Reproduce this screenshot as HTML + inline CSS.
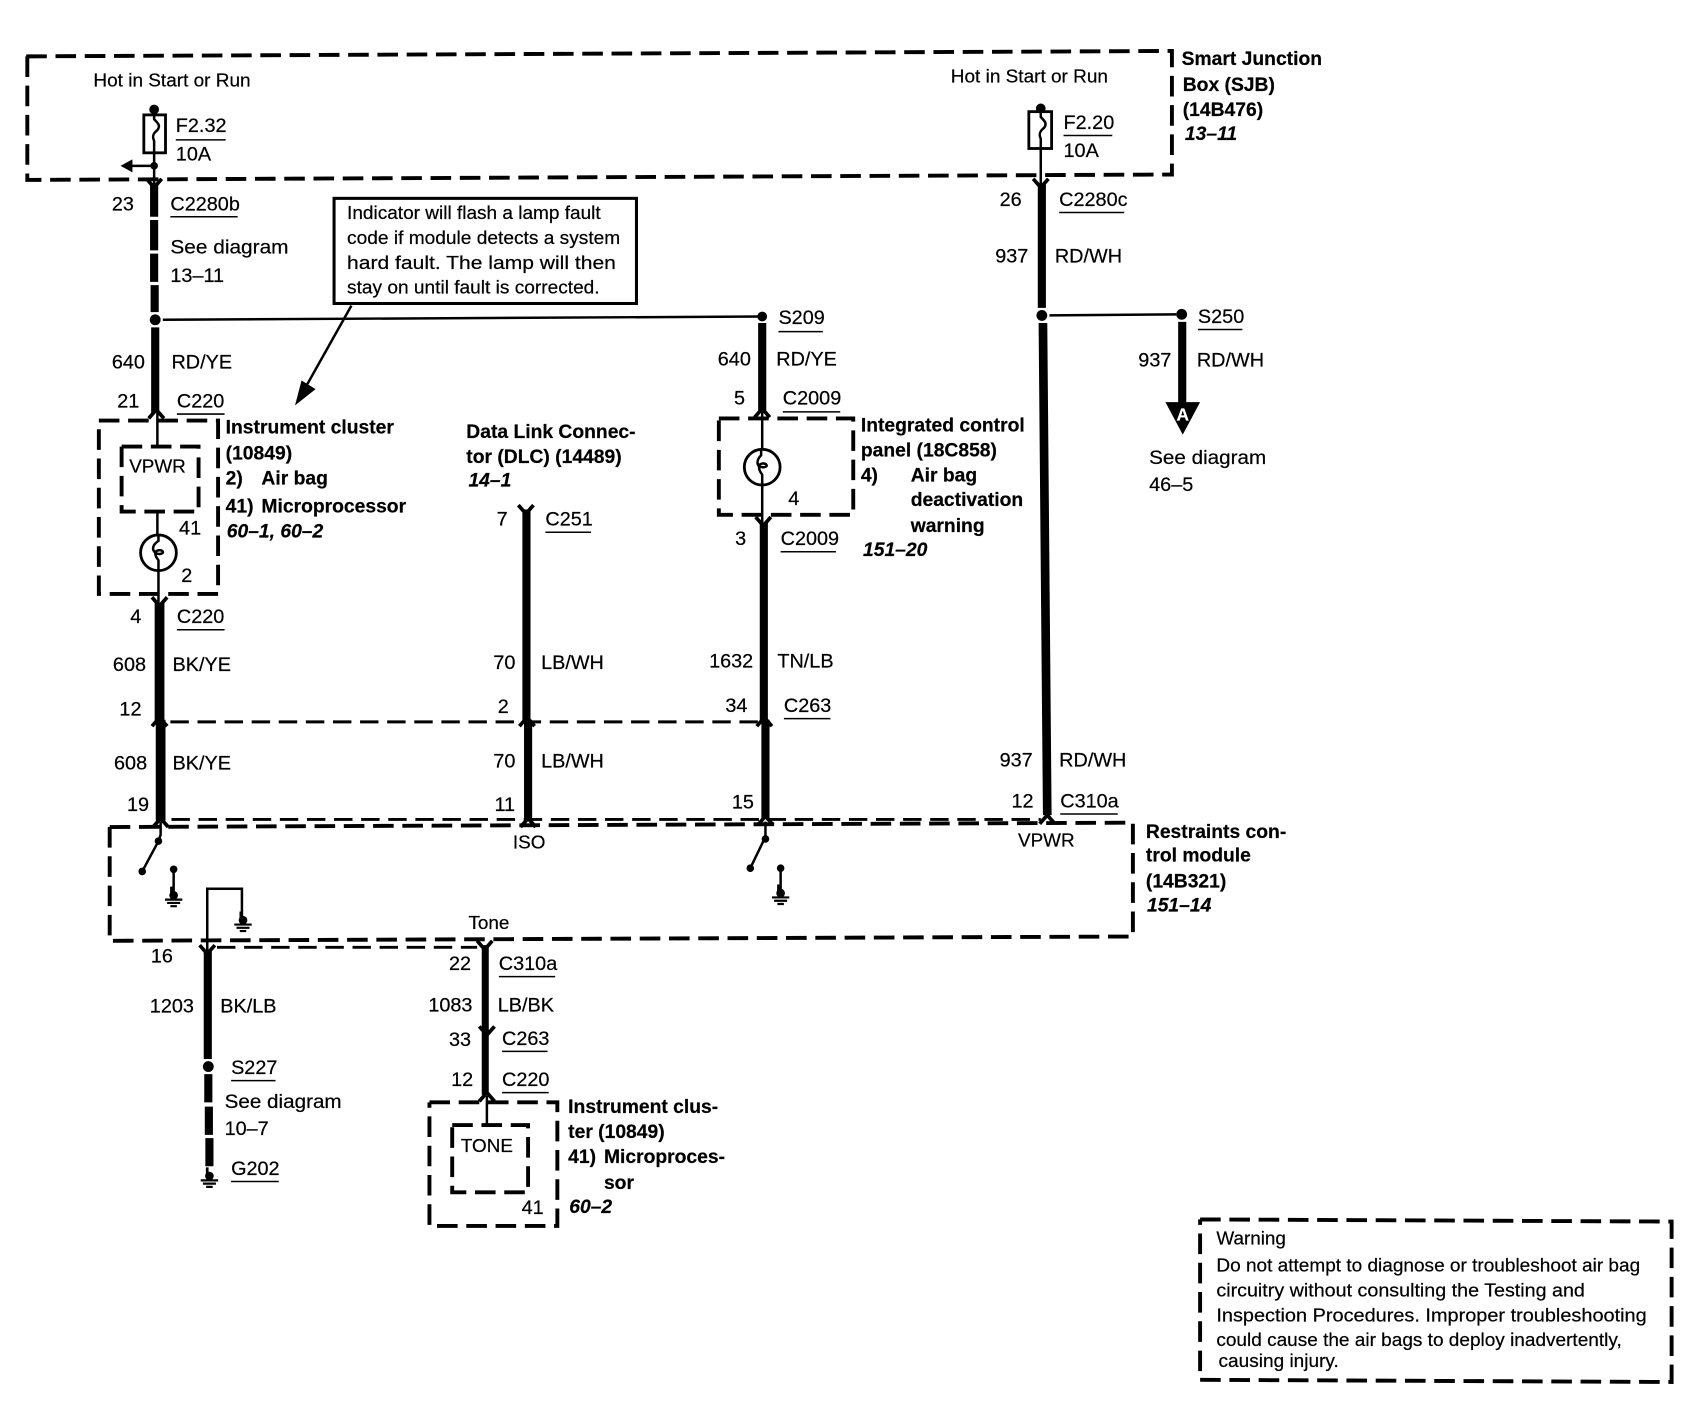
<!DOCTYPE html>
<html><head><meta charset="utf-8"><style>
html,body{margin:0;padding:0;background:#fff}
svg{display:block}
text{font-family:"Liberation Sans",sans-serif;font-size:18.3px;fill:#000;stroke:#000;stroke-width:.2}
.b{font-weight:bold;font-size:17.8px}
.i{font-weight:bold;font-style:italic;font-size:17.8px}
.s{font-size:17.4px}
.t{fill:none;stroke:#000;stroke-width:2.3}
.w{fill:none;stroke:#000;stroke-width:7.5}
.u{stroke:#000;stroke-width:1.4}
.d{fill:none;stroke:#000;stroke-width:3.6;stroke-dasharray:19 8}
.h{fill:none;stroke:#000;stroke-width:2.7;stroke-dasharray:17 8}
.c{fill:none;stroke:#000;stroke-width:3.4}
</style></head><body>
<svg xmlns="http://www.w3.org/2000/svg" width="1700" height="1408" viewBox="0 0 1568 1299">
<defs>
<path id="dn" class="c" d="M-7,-5 L0,3 L7,-5"/>
<path id="up" class="c" d="M-7,5 L0,-3 L7,5"/>
<g id="gnd"><circle cx="0" cy="0" r="4"/><path d="M-2,-8V0" stroke="#000" stroke-width="2.5"/><path d="M-8,4H8M-6,7H6M-3,10H3" stroke="#000" stroke-width="2"/></g>
</defs>
<rect width="1568" height="1299" fill="#fff"/>

<!-- SJB -->
<path class="d" d="M24,52 L1081,47 V161 L25,166 V52"/>
<text class="s" x="86" y="80" textLength="145" lengthAdjust="spacingAndGlyphs">Hot in Start or Run</text>
<text class="s" x="877" y="76" textLength="145" lengthAdjust="spacingAndGlyphs">Hot in Start or Run</text>
<circle cx="142" cy="101" r="4.5"/>
<rect x="132.5" y="106" width="20" height="35" fill="#fff" stroke="#000" stroke-width="2.6"/>
<path class="t" d="M142,104 v6 c4,4 6,6 3,10 c-4,3 -5,6 -3,10 V175"/>
<circle cx="142" cy="153" r="3.5"/>
<path class="t" d="M142,153 H119"/><path d="M111,153 L122,147 V159Z"/>
<text x="162" y="122">F2.32</text><line class="u" x1="162" y1="129" x2="208" y2="129"/>
<text x="162" y="148">10A</text>
<circle cx="960" cy="100" r="4.5"/>
<rect x="949" y="103" width="21" height="34" fill="#fff" stroke="#000" stroke-width="2.6"/>
<path class="t" d="M960,102 v6 c4,4 6,6 3,10 c-4,3 -5,6 -3,10 V172"/>
<text x="981" y="119">F2.20</text><line class="u" x1="981" y1="125" x2="1026" y2="125"/>
<text x="981" y="145">10A</text>
<text class="b" x="1090" y="60">Smart Junction</text>
<text class="b" x="1091" y="84">Box (SJB)</text>
<text class="b" x="1091" y="107">(14B476)</text>
<text class="i" x="1093" y="129">13–11</text>

<!-- Left top wire -->
<use href="#dn" x="142" y="170"/>
<path class="w" d="M142,170V200M142,203V231M142,234V260M142.5,263V288"/>
<text x="103" y="194">23</text>
<text x="157" y="194">C2280b</text><line class="u" x1="157" y1="200" x2="219" y2="200"/>
<text x="157" y="234" textLength="109" lengthAdjust="spacingAndGlyphs">See diagram</text>
<text x="157" y="260">13–11</text>
<circle cx="143" cy="295" r="5"/>
<path class="t" d="M150,295 L703,292"/>
<path class="w" d="M143,302V381"/>
<text x="103" y="340">640</text><text x="158" y="340">RD/YE</text>
<text x="108" y="376">21</text>
<text x="163" y="376">C220</text><line class="u" x1="163" y1="382" x2="207" y2="382"/>
<use href="#up" x="144" y="381"/>

<!-- Callout -->
<rect x="308" y="183" width="279" height="97" fill="#fff" stroke="#000" stroke-width="2.8"/>
<text class="s" x="320" y="202" textLength="234" lengthAdjust="spacingAndGlyphs">Indicator will flash a lamp fault</text>
<text class="s" x="320" y="225" textLength="252" lengthAdjust="spacingAndGlyphs">code if module detects a system</text>
<text class="s" x="320" y="248" textLength="248" lengthAdjust="spacingAndGlyphs">hard fault. The lamp will then</text>
<text class="s" x="320" y="271" textLength="233" lengthAdjust="spacingAndGlyphs">stay on until fault is corrected.</text>
<path class="t" d="M324,282 L283,355"/><path d="M272,374 L278,351 L291,359Z"/>

<!-- Instrument cluster -->
<path class="d" d="M91,388 H201 V548 H91 V388"/>
<path class="d" d="M112,412 H183 V472 H112 V412" stroke-dasharray="15 6"/>
<text class="s" x="119" y="436">VPWR</text>
<path class="t" d="M145,380V412M145,472V493"/>
<circle cx="146" cy="510" r="16.5" fill="#fff" stroke="#000" stroke-width="2.6"/>
<path class="t" d="M146,493 v6 c-6,4 -6,8 -3,11 c3,2 8,1 7,-1 c-1,-2 -6,-2 -7,1 c0,4 2,5 3,7 V556"/>
<text x="165" y="493">41</text><text x="167" y="537">2</text>
<text class="b" x="208" y="400">Instrument cluster</text>
<text class="b" x="208" y="424">(10849)</text>
<text class="b" x="208" y="447">2)</text><text class="b" x="241" y="447">Air bag</text>
<text class="b" x="208" y="473">41)</text><text class="b" x="241" y="473">Microprocessor</text>
<text class="i" x="209" y="496">60–1, 60–2</text>

<use href="#dn" x="147" y="556"/>
<path class="w" d="M147,556V665" style="stroke-width:9"/>
<text x="120" y="575">4</text>
<text x="163" y="575">C220</text><line class="u" x1="163" y1="581" x2="207" y2="581"/>
<text x="104" y="619">608</text><text x="159" y="619">BK/YE</text>
<text x="110" y="660">12</text>
<use href="#up" x="147" y="665"/>
<path class="h" d="M157,666 H702"/>
<path class="w" d="M148,664V757" style="stroke-width:9"/>
<text x="105" y="710">608</text><text x="159" y="710">BK/YE</text>
<text x="117" y="748">19</text>
<use href="#up" x="148" y="758"/>
<path class="h" d="M158,756 H960"/>

<!-- DLC -->
<text class="b" x="430" y="404">Data Link Connec-</text>
<text class="b" x="430" y="427">tor (DLC) (14489)</text>
<text class="i" x="432" y="449">14–1</text>
<use href="#dn" x="485" y="471"/>
<path class="w" d="M485.5,470V665"/>
<text x="458" y="485">7</text>
<text x="503" y="485">C251</text><line class="u" x1="503" y1="491" x2="545" y2="491"/>
<text x="455" y="617">70</text><text x="499" y="617">LB/WH</text>
<text x="459" y="658">2</text>
<use href="#up" x="486" y="665"/>
<path class="w" d="M487,664V757"/>
<text x="455" y="708">70</text><text x="499" y="708">LB/WH</text>
<text x="456" y="748">11</text>
<use href="#up" x="487" y="758"/>

<!-- ICP -->
<circle cx="703" cy="292" r="4.5"/>
<text x="718" y="299">S209</text><line class="u" x1="718" y1="306" x2="759" y2="306"/>
<path class="w" d="M703,298V380"/>
<text x="662" y="337">640</text><text x="716" y="337">RD/YE</text>
<text x="677" y="373">5</text>
<text x="722" y="373">C2009</text><line class="u" x1="722" y1="380" x2="775" y2="380"/>
<use href="#up" x="703" y="380"/>
<path class="d" d="M663,386 H787 V475 H663 V386"/>
<path class="t" d="M703,380V414"/>
<circle cx="703" cy="431" r="16.5" fill="#fff" stroke="#000" stroke-width="2.6"/>
<path class="t" d="M702,414 v6 c-4,4 -4,8 -2,10 c3,2 8,1 7,-1 c-1,-2 -6,-2 -7,1 c0,5 2,6 3,8 V482"/>
<text x="727" y="466">4</text>
<text class="b" x="794" y="398">Integrated control</text>
<text class="b" x="794" y="421">panel (18C858)</text>
<text class="b" x="794" y="444">4)</text><text class="b" x="840" y="444">Air bag</text>
<text class="b" x="840" y="467">deactivation</text>
<text class="b" x="840" y="491">warning</text>
<text class="i" x="796" y="513">151–20</text>
<use href="#dn" x="704" y="482"/>
<path class="w" d="M704.5,482V665"/>
<text x="678" y="503">3</text>
<text x="720" y="503">C2009</text><line class="u" x1="720" y1="509" x2="771" y2="509"/>
<text x="654" y="616">1632</text><text x="717" y="616">TN/LB</text>
<text x="669" y="657">34</text>
<text x="723" y="657">C263</text><line class="u" x1="723" y1="663" x2="766" y2="663"/>
<use href="#up" x="705" y="665"/>
<path class="w" d="M706,664V755"/>
<text x="675" y="746">15</text>
<use href="#up" x="706" y="756"/>

<!-- 937 -->
<use href="#dn" x="960" y="170"/>
<path class="w" d="M961,170V284"/>
<text x="922" y="190">26</text>
<text x="977" y="190">C2280c</text><line class="u" x1="977" y1="196" x2="1037" y2="196"/>
<text x="918" y="242">937</text><text x="973" y="242">RD/WH</text>
<circle cx="961" cy="291" r="5"/>
<path class="t" d="M968,291 L1085,290"/>
<circle cx="1090" cy="290" r="5"/>
<text x="1105" y="298">S250</text><line class="u" x1="1105" y1="304" x2="1146" y2="304"/>
<path class="w" d="M1090.5,297V375"/>
<path d="M1075,371 H1107 L1091,401Z"/>
<text x="1091" y="388" text-anchor="middle" style="fill:#fff;stroke:#fff;font-size:16px;font-weight:bold">A</text>
<text x="1050" y="338">937</text><text x="1104" y="338">RD/WH</text>
<text x="1060" y="428" textLength="108" lengthAdjust="spacingAndGlyphs">See diagram</text>
<text x="1060" y="453">46–5</text>
<path class="w" d="M962,298 L966,752" style="stroke-width:8"/>
<text x="922" y="707">937</text><text x="977" y="707">RD/WH</text>
<text x="933" y="745">12</text>
<text x="978" y="745">C310a</text><line class="u" x1="978" y1="751" x2="1031" y2="751"/>
<use href="#up" x="966" y="755"/>

<!-- RCM -->
<path class="d" d="M101,763 L1045,759 V864 L101,868 V763"/>
<text class="s" x="473" y="783">ISO</text>
<text class="s" x="939" y="781">VPWR</text>
<text class="s" x="432" y="857">Tone</text>
<text class="b" x="1057" y="773">Restraints con-</text>
<text class="b" x="1057" y="795">trol module</text>
<text class="b" x="1057" y="819">(14B321)</text>
<text class="i" x="1058" y="841">151–14</text>
<path class="t" d="M148,758V770 L146,776 L131,804"/>
<circle cx="146" cy="776" r="3.5"/><circle cx="131" cy="804" r="3.5"/>
<circle cx="160" cy="802" r="3.5"/><path class="t" d="M160,802V824"/>
<use href="#gnd" x="160" y="826"/>
<path class="t" d="M706,758V772 L692,801"/>
<circle cx="706" cy="774" r="3.5"/><circle cx="692" cy="801" r="3.5"/>
<circle cx="720" cy="801" r="3.5"/><path class="t" d="M720,801V822"/>
<use href="#gnd" x="720" y="824"/>
<path class="t" d="M191,880V820H223V846"/>
<use href="#gnd" x="224" y="849"/>

<!-- 1203 -->
<use href="#dn" x="191" y="877"/>
<path class="w" d="M191.5,877V977"/>
<path class="h" d="M200,874H440"/>
<text x="139" y="888">16</text>
<text x="138" y="934">1203</text><text x="203" y="934">BK/LB</text>
<circle cx="192" cy="984" r="5"/>
<text x="213" y="991">S227</text><line class="u" x1="213" y1="997" x2="254" y2="997"/>
<path class="w" d="M192,991V1017M192.5,1021V1047M193,1050V1076"/>
<text x="207" y="1022" textLength="108" lengthAdjust="spacingAndGlyphs">See diagram</text>
<text x="207" y="1047">10–7</text>
<use href="#gnd" x="193" y="1085"/>
<text x="213" y="1084">G202</text><line class="u" x1="213" y1="1090" x2="257" y2="1090"/>

<!-- Tone wire -->
<use href="#dn" x="447" y="873"/>
<path class="w" d="M447.5,872V1010" style="stroke-width:6.5"/>
<use href="#dn" x="449" y="952"/>
<text x="414" y="895">22</text>
<text x="460" y="895">C310a</text><line class="u" x1="460" y1="901" x2="512" y2="901"/>
<text x="395" y="933">1083</text><text x="459" y="933">LB/BK</text>
<text x="414" y="965">33</text>
<text x="463" y="964">C263</text><line class="u" x1="463" y1="970" x2="505" y2="970"/>
<text x="416" y="1002">12</text>
<text x="463" y="1002">C220</text><line class="u" x1="463" y1="1008" x2="506" y2="1008"/>
<use href="#up" x="449" y="1011"/>
<path class="t" d="M449,1011V1038"/>
<path class="d" d="M396,1017 H514 V1131 H396 V1017"/>
<path class="d" d="M417,1038 H487 V1100 H417 V1038" stroke-dasharray="15 6"/>
<text class="s" x="425" y="1063">TONE</text>
<text x="481" y="1120">41</text>
<text class="b" x="524" y="1027">Instrument clus-</text>
<text class="b" x="524" y="1050">ter (10849)</text>
<text class="b" x="524" y="1073">41)</text><text class="b" x="557" y="1073">Microproces-</text>
<text class="b" x="557" y="1097">sor</text>
<text class="i" x="525" y="1119">60–2</text>

<!-- Warning -->
<path class="d" d="M1107,1125 L1542,1127 V1275 L1107,1273 V1125"/>
<text class="s" x="1122" y="1148">Warning</text>
<text class="s" x="1122" y="1173" textLength="391" lengthAdjust="spacingAndGlyphs">Do not attempt to diagnose or troubleshoot air bag</text>
<text class="s" x="1122" y="1196" textLength="340" lengthAdjust="spacingAndGlyphs">circuitry without consulting the Testing and</text>
<text class="s" x="1122" y="1219" textLength="397" lengthAdjust="spacingAndGlyphs">Inspection Procedures. Improper troubleshooting</text>
<text class="s" x="1122" y="1242" textLength="374" lengthAdjust="spacingAndGlyphs">could cause the air bags to deploy inadvertently,</text>
<text class="s" x="1124" y="1261" textLength="111" lengthAdjust="spacingAndGlyphs">causing injury.</text>
</svg>
</body></html>
